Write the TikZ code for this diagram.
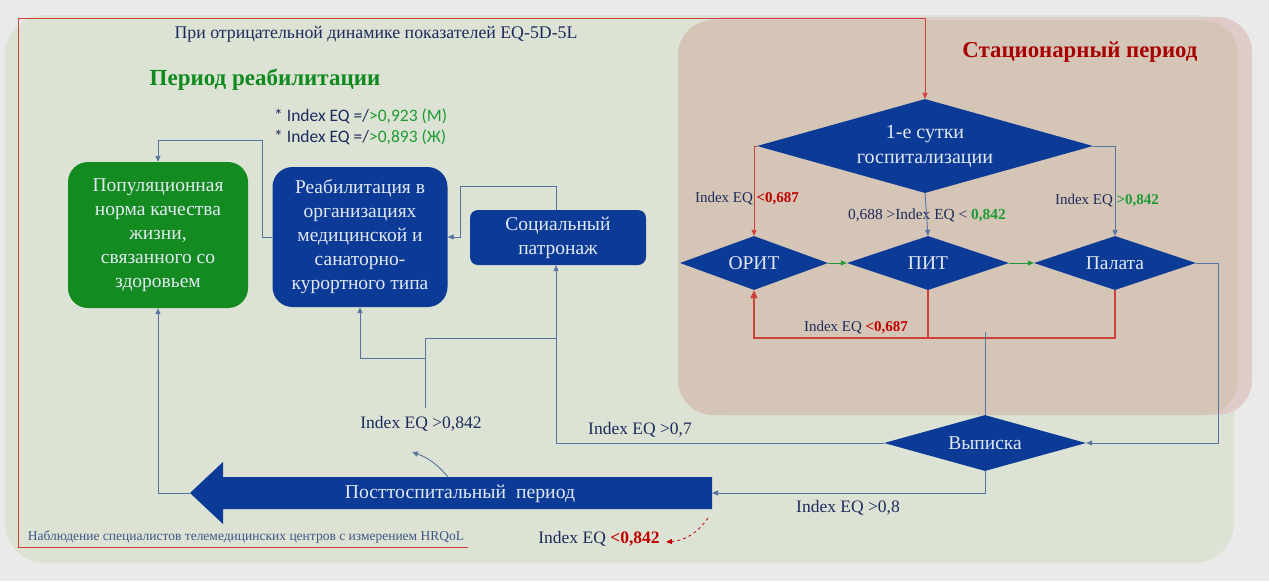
\documentclass[tikz,border=0pt]{standalone}
\usepackage{fontspec}
\setmainfont{Liberation Serif}
\newfontfamily\calfont{Carlito}
\usetikzlibrary{shapes.geometric,arrows.meta}
\definecolor{bgout}{HTML}{EAEAEA}
\definecolor{panelg}{HTML}{DDE3D4}
\definecolor{panelp}{HTML}{DFCBCA}
\definecolor{panelb}{HTML}{D5C5B6}
\definecolor{boxblue}{HTML}{0B3B96}
\definecolor{boxgreen}{HTML}{138B20}
\definecolor{lineblue}{HTML}{5773A0}
\definecolor{txtblue}{HTML}{1D2B5C}
\definecolor{okgreen}{HTML}{1E9B35}
\definecolor{badred}{HTML}{C00000}
\definecolor{framered}{HTML}{D0403A}
\definecolor{titlered}{HTML}{A80000}
\definecolor{titlegreen}{HTML}{0F8A1F}
\definecolor{boxtxt}{HTML}{E2E9F2}
\tikzset{
  rbox/.style={rounded corners=16pt, fill=boxblue, text=boxtxt, align=center, inner sep=0pt,
    font=\fontsize{19.5}{24}\selectfont},
  dia/.style={diamond, fill=boxblue, text=boxtxt, inner sep=0pt, align=center,
    font=\fontsize{19.5}{24}\selectfont},
  conn/.style={draw=lineblue, line width=0.9pt},
  redc/.style={draw=framered, line width=0.9pt},
  arr/.style={-{Triangle[length=6pt,width=5pt]}},
  lbl/.style={text=txtblue, font=\fontsize{15}{17}\selectfont, inner sep=0pt},
  lblb/.style={text=txtblue, font=\fontsize{17.5}{19}\selectfont, inner sep=0pt},
}
\begin{document}
\begin{tikzpicture}[x=1pt,y=-1pt]
\useasboundingbox (0,0) rectangle (1269,581);
\fill[bgout] (0,0) rectangle (1269,581);
% panels
\fill[panelg, rounded corners=40pt] (5,15) rectangle (1234,563);
\fill[panelp, rounded corners=35pt] (690,17) rectangle (1252,415);
\fill[panelb, rounded corners=35pt] (678,20) rectangle (1238,415);

% titles and texts
\node[text=txtblue, font=\fontsize{17.8}{20}\selectfont, inner sep=0pt] (ttop) at (376,34) {При отрицательной динамике показателей EQ-5D-5L};
\node[text=titlegreen, font=\fontsize{23}{25}\selectfont\bfseries, inner sep=0pt] (tgreen) at (265,80) {Период реабилитации};
\node[text=titlered, font=\fontsize{22.8}{25}\selectfont\bfseries, inner sep=0pt] (tred) at (1080,52) {Стационарный период};
\node[anchor=west, text=txtblue, font=\calfont\fontsize{17.5}{19}\selectfont, inner sep=0pt] (nm) at (274,116) {* Index EQ =/\textcolor{okgreen}{>0,923 (М)}};
\node[anchor=west, text=txtblue, font=\calfont\fontsize{17.5}{19}\selectfont, inner sep=0pt] (nf) at (274,137) {* Index EQ =/\textcolor{okgreen}{>0,893 (Ж)}};

% boxes
\node[rbox, fill=boxgreen, minimum width=180pt, minimum height=146pt, rounded corners=20pt] (pop) at (158,235)
  {Популяционная\\норма качества\\жизни,\\связанного со\\здоровьем};
\node[rbox, minimum width=175pt, minimum height=140pt, rounded corners=20pt] (reh) at (360,237)
  {Реабилитация в\\организациях\\медицинской и\\санаторно-\\курортного типа};
\node[rbox, minimum width=176pt, minimum height=55pt, rounded corners=8pt] (soc) at (558,237.5)
  {Социальный\\патронаж};

% diamonds
\node[dia, font=\fontsize{20}{25}\selectfont, minimum width=336pt, minimum height=94pt, aspect=3.6] (day1) at (925,146) {1-е сутки\\госпитализации};
\node[dia, minimum width=148pt, minimum height=54pt, aspect=2.7] (orit) at (754,263) {ОРИТ};
\node[dia, minimum width=162pt, minimum height=54pt, aspect=3] (pit) at (928,263) {ПИТ};
\node[dia, minimum width=162pt, minimum height=54pt, aspect=3] (pal) at (1115,263) {Палата};
\node[dia, minimum width=202pt, minimum height=56pt, aspect=3.6] (vyp) at (985,443) {Выписка};

% big arrow
\fill[boxblue] (190,493) -- (223,462) -- (223,477) -- (712,477) -- (712,509) -- (223,509) -- (223,524) -- cycle;
\coordinate (btip) at (190,493);
\coordinate (btail) at (712,493);
\node[text=boxtxt, font=\fontsize{19.7}{22}\selectfont, inner sep=0pt] (post) at (460,494) {Посттоспитальный\ \ период};

% labels
\node[lbl] (l1) at (747,199) {Index EQ \textcolor{badred}{\textbf{<0,687}}};
\node[lbl, font=\fontsize{15.4}{17}\selectfont] (l2) at (927,215) {0,688 >Index EQ < \textcolor{okgreen}{\textbf{0,842}}};
\node[lbl] (l3) at (1107,201) {Index EQ \textcolor{okgreen}{\textbf{>0,842}}};
\node[lbl] (l4) at (856,328) {Index EQ \textcolor{badred}{\textbf{<0,687}}};
\node[lblb] (l5) at (421,424) {Index EQ >0,842};
\node[lblb] (l6) at (640,430) {Index EQ >0,7};
\node[lblb] (l7) at (848,508) {Index EQ >0,8};
\node[lblb] (l8) at (599,539) {Index EQ \textcolor{badred}{\textbf{<0,842}}};
\node[lbl, font=\fontsize{13.5}{15}\selectfont, text=lineblue!60!txtblue] (l9) at (246,537) {Наблюдение специалистов телемедицинских центров с измерением HRQoL};

% red frame
\draw[redc, arr] (468,547) -- (18,547) -- (18,18) -- (925,18) -- (day1.north);

% stationary connectors
\draw[redc, arr] (day1.west) -- (754,146) -- (orit.north);
\draw[conn, arr] (day1.south) -- (pit.north);
\draw[conn, arr] (day1.east) -- (1115,146) -- (pal.north);
\draw[draw=okgreen, line width=0.9pt, arr] (orit.east) -- (pit.west);
\draw[draw=okgreen, line width=0.9pt, arr] (pit.east) -- (pal.west);
\draw[redc, line width=1.2pt] (pal.south) -- (1115,338) -- (928,338);
\draw[redc, line width=1.6pt, -{Triangle[length=8pt,width=7pt]}] (pit.south) -- (928,338) -- (754,338) -- (orit.south);
\coordinate (vtop) at (985,332);
\draw[conn] (vtop) -- (vyp.north);
\draw[conn, arr] (pal.east) -- (1218,263) -- (1218,443) -- (vyp.east);

% discharge connectors
\draw[conn, arr] (vyp.south) -- (985,493) -- (btail);
\draw[conn, arr] (vyp.west) -- (556,443) -- (soc.south -| 556,0);
\coordinate (l5top) at (425,408);
\draw[conn] (l5top) -- (425,338) -- (556,338);
\draw[conn, arr] (425,358) -- (360,358) -- (reh.south);
\draw[conn, arr] (soc.north -| 556,0) -- (556,186) -- (460,186) -- (460,237) -- (reh.east);
\draw[conn, arr] (reh.west) -- (262,237) -- (262,140) -- (158,140) -- (pop.north);
\draw[conn, arr] (btip) -- (158,493) -- (pop.south);

% curved arrows
\coordinate (cs) at (448,477);
\coordinate (ce) at (412,452);
\draw[conn, arr] (cs) to[bend right=15] (ce);
\coordinate (rs) at (708,518);
\coordinate (re) at (666,542);
\draw[draw=badred, line width=0.8pt, dashed, arr] (rs) to[bend left=25] (re);
\end{tikzpicture}
\end{document}
